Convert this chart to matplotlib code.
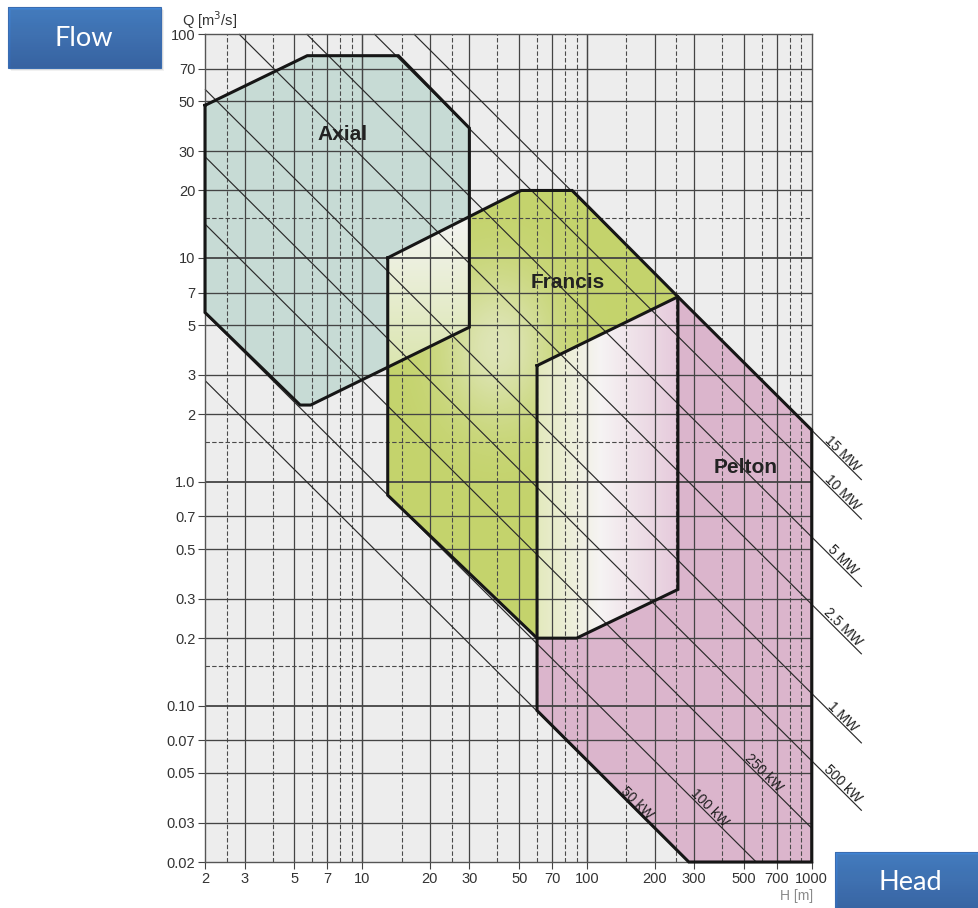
import numpy as np
import matplotlib
matplotlib.use("Agg")
import matplotlib.pyplot as plt
from matplotlib.path import Path
from matplotlib.patches import Rectangle

plt.rcParams['font.family'] = ['Liberation Sans', 'DejaVu Sans']

# ---------------- data ----------------
axial_H = [2, 5.7, 14.5, 30, 30, 5.9, 5.3, 2]
axial_Q = [48, 80, 80, 38, 4.9, 2.2, 2.2, 5.7]

francis_H = [13, 51, 86, 254, 254, 90, 60, 13]
francis_Q = [10, 20, 20, 6.7, 0.33, 0.2, 0.2, 0.87]

pelton_H = [60, 254, 1000, 1000, 284, 60]
pelton_Q = [3.3, 6.7, 1.7, 0.02, 0.02, 0.095]

power_kw = [50, 100, 250, 500, 1000, 2500, 5000, 10000, 15000]
power_labels = ['50 kW', '100 kW', '250 kW', '500 kW', '1 MW', '2.5 MW', '5 MW', '10 MW', '15 MW']
power_outside = [False, False, False, True, True, True, True, True, True]
label_H = [161, 336, 587, 1320, 1320, 1320, 1320, 1320, 1320]
eta = 0.9          # efficiency used for iso-power lines  P = 9.81*eta*Q*H

x_ticks = [2, 3, 5, 7, 10, 20, 30, 50, 70, 100, 200, 300, 500, 700, 1000]
x_ticklabels = ['2', '3', '5', '7', '10', '20', '30', '50', '70', '100', '200', '300', '500', '700', '1000']
x_minor = [2.5, 4, 6, 8, 9, 15, 25, 40, 60, 80, 90, 150, 250, 400, 600, 800, 900]
y_ticks = [0.02, 0.03, 0.05, 0.07, 0.1, 0.2, 0.3, 0.5, 0.7, 1, 2, 3, 5, 7, 10, 20, 30, 50, 70, 100]
y_ticklabels = ['0.02', '0.03', '0.05', '0.07', '0.10', '0.2', '0.3', '0.5', '0.7', '1.0',
                '2', '3', '5', '7', '10', '20', '30', '50', '70', '100']
y_minor = [0.15, 1.5, 15]

# ---------------- figure ----------------
W, HP = 979, 908
fig = plt.figure(figsize=(W / 100, HP / 100), dpi=100)
fig.patch.set_facecolor('white')
ax = fig.add_axes([205 / W, 1 - 862 / HP, (811.7 - 205) / W, (862 - 34) / HP])
ax.set_xscale('log')
ax.set_yscale('log')
ax.set_xlim(2, 1000)
ax.set_ylim(0.02, 100)
ax.set_facecolor('#ededed')

teal = '#c7dbd5'
green = '#c4d36c'
pink = '#dbb5cc'

ax.fill(axial_H, axial_Q, color=teal, lw=0, zorder=1)
ax.fill(francis_H, francis_Q, color=green, lw=0, zorder=1)
ax.fill(pelton_H, pelton_Q, color=pink, lw=0, zorder=1)

# ---- overlap shading (gradients) ----
nx, ny = 607, 828
u = (np.arange(nx) + 0.5) / nx
v = (np.arange(ny) + 0.5) / ny
U, V = np.meshgrid(u, v)
pts = np.column_stack([U.ravel(), V.ravel()])
to_ax = lambda xy: ax.transAxes.inverted().transform(ax.transData.transform(xy))


def poly_path(Hs, Qs):
    return Path(to_ax(np.column_stack([Hs, Qs])))


inA = poly_path(axial_H, axial_Q).contains_points(pts).reshape(ny, nx)
inF = poly_path(francis_H, francis_Q).contains_points(pts).reshape(ny, nx)
inP = poly_path(pelton_H, pelton_Q).contains_points(pts).reshape(ny, nx)
img = np.zeros((ny, nx, 4))


def lerp(c1, c2, t):
    c1 = np.array(c1)
    c2 = np.array(c2)
    return c1[None, None, :] * (1 - t[..., None]) + c2[None, None, :] * t[..., None]


# Axial / Francis overlap
vA0 = to_ax((1, 3.3))[1]
vA1 = to_ax((1, 14))[1]
tA = np.clip((V - vA0) / (vA1 - vA0), 0, 1)
colA = lerp((0.86, 0.90, 0.69), (0.95, 0.955, 0.935), tA)
m = inA & inF
img[m, :3] = colA[m]
img[m, 3] = 1

# Francis / Pelton overlap
u0 = to_ax((60, 1))[0]
u1 = to_ax((254, 1))[0]
s = np.clip((U - u0) / (u1 - u0), 0, 1)
yl = (0.89, 0.915, 0.74)
wh = (0.965, 0.955, 0.955)
pk = (0.90, 0.79, 0.86)
colFP = np.where((s < 0.45)[..., None], lerp(yl, wh, np.clip(s / 0.45, 0, 1)),
                 lerp(wh, pk, np.clip((s - 0.45) / 0.55, 0, 1)))
m = inF & inP
img[m, :3] = colFP[m]
img[m, 3] = 1

# soft glow inside Francis-only zone
gc = to_ax((40, 4.0))
d2 = ((U - gc[0]) / 0.09) ** 2 + ((V - gc[1]) / 0.09) ** 2
glow = 0.55 * np.exp(-d2)
m = inF & ~inA & ~inP
img[m, :3] = 0.96
img[m, 3] = glow[m]

ax.imshow(img, origin='lower', extent=(0, 1, 0, 1), transform=ax.transAxes,
          aspect='auto', interpolation='nearest', zorder=1.5)

# ---------------- grid ----------------
for xv in x_ticks[1:-1]:
    ax.axvline(xv, color='#444444', lw=1.05 if xv in (10, 100) else 0.9, zorder=2)
for xv in x_minor:
    ax.axvline(xv, color='#4a4a4a', lw=0.8, ls=(0, (4, 2)), zorder=2)
for yv in y_ticks[1:-1]:
    ax.axhline(yv, color='#444444', lw=1.3 if yv in (0.1, 1, 10) else 0.95, zorder=2)
for yv in y_minor:
    ax.axhline(yv, color='#4a4a4a', lw=0.8, ls=(0, (4, 2)), zorder=2)

# ---------------- iso-power lines ----------------
k = 9.81 * eta
fig.canvas.draw()
for P, lab, outside, hl in zip(power_kw, power_labels, power_outside, label_H):
    c = P / k
    h0 = max(2.0, c / 100.0)
    h1 = 1670.0 if outside else min(1000.0, c / 0.02)
    hh = np.array([h0, h1])
    ax.plot(hh, c / hh, color='#2a2a2a', lw=0.85, zorder=3, clip_on=not outside,
            solid_capstyle='butt')
    p1 = ax.transData.transform((hl, c / hl))
    p2 = ax.transData.transform((hl * 1.2, c / (hl * 1.2)))
    ang = np.degrees(np.arctan2(p2[1] - p1[1], p2[0] - p1[0]))
    nrm = np.array([-np.sin(np.radians(ang)), np.cos(np.radians(ang))]) * 1.5
    ax.annotate(lab, xy=(hl, c / hl), xytext=(nrm[0] * 0.72, nrm[1] * 0.72),
                textcoords='offset points', rotation=ang, rotation_mode='anchor',
                ha='center', va='baseline', fontsize=10, color='#1e1e1e',
                zorder=6, annotation_clip=False)

# ---------------- outlines ----------------
for Hs, Qs in [(axial_H, axial_Q), (francis_H, francis_Q), (pelton_H, pelton_Q)]:
    ax.plot(list(Hs) + [Hs[0]], list(Qs) + [Qs[0]], color='#161616', lw=2.2,
            solid_joinstyle='miter', zorder=4, clip_on=False)

ax.text(8.15, 35.7, 'Axial', fontsize=15, fontweight='bold', color='#222222',
        ha='center', va='center', zorder=6)
ax.text(82, 7.8, 'Francis', fontsize=15, fontweight='bold', color='#222222',
        ha='center', va='center', zorder=6)
ax.text(508, 1.16, 'Pelton', fontsize=15, fontweight='bold', color='#222222',
        ha='center', va='center', zorder=6)

# ---------------- axes ----------------
ax.set_xticks(x_ticks)
ax.set_xticklabels(x_ticklabels)
ax.set_yticks(y_ticks)
ax.set_yticklabels(y_ticklabels)
ax.minorticks_off()
ax.tick_params(axis='both', which='major', direction='out', length=5, width=0.8,
               color='#444444', labelsize=10.5, labelcolor='#333333', pad=2)
for sp in ax.spines.values():
    sp.set_color('#555555')
    sp.set_linewidth(1.0)
    sp.set_zorder(3.5)

fig.text(182 / W, 1 - 20 / HP, 'Q [m$^3$/s]', fontsize=10.5, color='#333333',
         ha='left', va='center')
fig.text(813 / W, 1 - 896 / HP, 'H [m]', fontsize=10, color='#8a8a8a',
         ha='right', va='center')


# ---------------- blue buttons ----------------
def button(x0, y0, x1, y1, label, tx, ty):
    for off, a in [(3, 0.08), (2, 0.12)]:
        fig.patches.append(Rectangle(((x0 + off) / W, 1 - (y1 + off) / HP),
                                     (x1 - x0) / W, (y1 - y0) / HP,
                                     transform=fig.transFigure, facecolor='#555555',
                                     alpha=a, lw=0, zorder=0))
    bax = fig.add_axes([x0 / W, 1 - y1 / HP, (x1 - x0) / W, (y1 - y0) / HP])
    g = np.linspace(0, 1, 64)[:, None]
    top = np.array([0.255, 0.525, 0.845])
    bot = np.array([0.195, 0.405, 0.705])
    grad = top[None, None, :] * (1 - g[..., None]) + bot[None, None, :] * g[..., None]
    grad = np.repeat(grad, 4, axis=1)
    bax.imshow(grad, aspect='auto', extent=(0, 1, 0, 1), interpolation='bilinear')
    bax.set_xlim(0, 1)
    bax.set_ylim(0, 1)
    bax.axis('off')
    fig.patches.append(Rectangle((x0 / W, 1 - y1 / HP), (x1 - x0) / W, (y1 - y0) / HP,
                                 transform=fig.transFigure, facecolor='none',
                                 edgecolor='#3a6cb0', lw=0.8, zorder=5))
    fig.text(tx / W, 1 - ty / HP, label, fontsize=19.5, color='white',
             family=['Lato', 'DejaVu Sans'], ha='center', va='center')


button(8, 7, 161, 68, 'Flow', 84, 39)
button(835, 852, 985, 915, 'Head', 910, 882)

fig.savefig('out.png', dpi=100)
